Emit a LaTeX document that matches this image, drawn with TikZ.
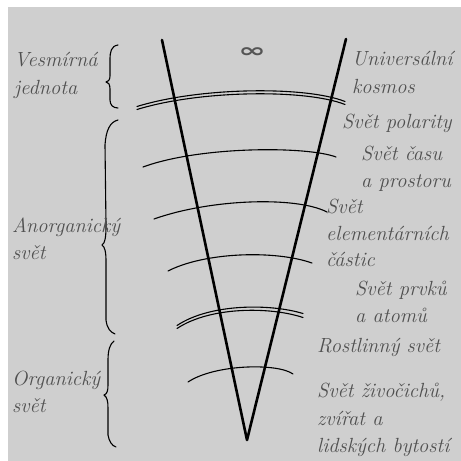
\documentclass[tikz,border=0pt]{standalone}
\usepackage{fontspec}
\newfontfamily\symfont{DejaVu Sans}
\definecolor{bggray}{RGB}{207,207,207}
\definecolor{txtgray}{RGB}{80,80,80}
\definecolor{infgray}{RGB}{85,85,85}
\tikzset{
  lbl/.style={anchor=base west, inner sep=0pt, text=txtgray,
    font=\fontsize{20.5}{27}\selectfont\itshape},
  vline/.style={line width=2.6pt, line cap=round, line join=round},
  arcline/.style={line width=1.1pt, line cap=round},
  bracepath/.style={line width=1.1pt, line cap=round, line join=round},
}
\begin{document}
\begin{tikzpicture}[x=1pt,y=-1pt]
\useasboundingbox (0,0) rectangle (461,461);
\fill[white] (0,0) rectangle (461,461);
\fill[bggray] (8,7) rectangle (461,461);

% V shape
\coordinate (ltop) at (162,40);
\coordinate (rtop) at (346,39);
\coordinate (apex) at (247,440);
\draw[vline] (ltop) -- (apex) -- (rtop);

% arcs
\draw[arcline] (137,106.5) .. controls (200,87) and (306,86) .. (345,101.5);
\draw[arcline] (137,109.5) .. controls (200,90) and (306,89) .. (345,104.5);
\draw[arcline] (143,167) .. controls (200,146) and (307,146) .. (336,157);
\draw[arcline] (154,219) .. controls (210,199) and (296,196) .. (327,212);
\draw[arcline] (168,271) .. controls (205,252) and (275,250) .. (312,263);
\draw[arcline] (177,325.5) .. controls (210,303.5) and (270,303.5) .. (303,313.5);
\draw[arcline] (177,328.5) .. controls (210,306.5) and (270,306.5) .. (303,317.5);
\draw[arcline] (188,382) .. controls (215,364) and (278,363) .. (293,374);

% braces
\draw[bracepath] (118,45) .. controls (111,46) and (110,52) .. (110,60) -- (110,76)
  .. controls (110,80) and (108,82) .. (106,82)
  .. controls (108,82) and (110,84) .. (110,89) -- (110,100)
  .. controls (110,105) and (113,108) .. (118,108);
\draw[bracepath] (118,120) .. controls (110,122) and (106,130) .. (105,145)
  -- (106,225) .. controls (106,238) and (105,243) .. (102,245)
  .. controls (105,247) and (106,252) .. (106,262)
  -- (106,320) .. controls (107,328) and (110,332) .. (115,334);
\draw[bracepath] (114,341) .. controls (110,344) and (108,350) .. (108,360)
  -- (108,385) .. controls (108,391) and (107,394) .. (104,395)
  .. controls (107,397) and (108,401) .. (108,408)
  -- (108,435) .. controls (109,441) and (112,446) .. (116,447);

% infinity
\node[inner sep=0pt, text=infgray, font=\fontsize{30}{30}\selectfont\symfont\bfseries] (inf) at (252,53) {\scalebox{1.1}[0.65]{∞}};

% left labels
\node[lbl] (vesm1) at (14,66) {Vesmírná};
\node[lbl] (vesm2) at (14,94) {jednota};
\node[lbl] (anorg1) at (12,232) {Anorganický};
\node[lbl] (anorg2) at (12,259) {svět};
\node[lbl] (org1) at (12,385) {Organický};
\node[lbl] (org2) at (12,412) {svět};

% right labels
\node[lbl] (univ1) at (352,65) {Universální};
\node[lbl] (univ2) at (352,93) {kosmos};
\node[lbl] (polar) at (342,128) {Svět polarity};
\node[lbl] (cas1) at (361,160) {Svět času};
\node[lbl] (cas2) at (361,187) {a prostoru};
\node[lbl] (elem1) at (326,213) {Svět};
\node[lbl] (elem2) at (326,240) {elementárních};
\node[lbl] (elem3) at (326,266) {částic};
\node[lbl] (prvk1) at (355,295) {Svět prvků};
\node[lbl] (prvk2) at (355,322) {a atomů};
\node[lbl] (rostl) at (317,352) {Rostlinný svět};
\node[lbl] (ziv1) at (317,397) {Svět živočichů,};
\node[lbl] (ziv2) at (317,425) {zvířat a};
\node[lbl] (ziv3) at (317,452) {lidských bytostí};
\end{tikzpicture}
\end{document}
